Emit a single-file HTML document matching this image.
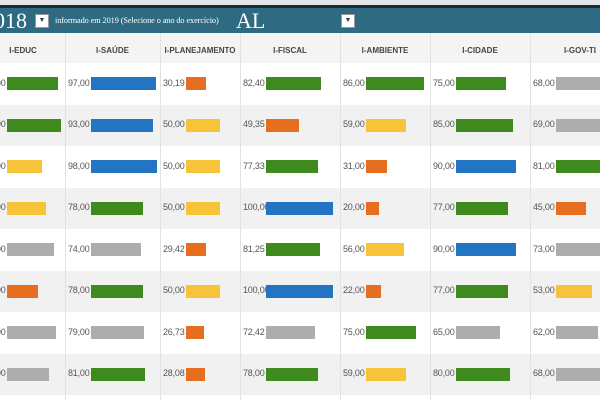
<!DOCTYPE html>
<html><head><meta charset="utf-8"><style>
body{margin:0;width:600px;height:400px;overflow:hidden;background:#fff;font-family:"Liberation Sans",sans-serif;position:relative}
.abs{position:absolute}
.hdr{font-size:8px;color:#444;font-weight:bold;text-align:center;top:46px}
.val{font-size:9px;color:#555;letter-spacing:-0.2px}
.bar{height:13px}
</style></head><body>
<div class="abs" style="left:0;top:0;width:600px;height:5px;background:#e4e6e8"></div>
<div class="abs" style="left:0;top:5px;width:600px;height:3px;background:#1b2a33"></div>
<div class="abs" style="left:0;top:8px;width:600px;height:25px;background:#2e6b82"></div>
<div class="abs" style="left:-6px;top:8px;font-family:'Liberation Serif',serif;font-size:22px;color:#fff">018</div>
<div class="abs" style="left:35px;top:14px;width:12px;height:12px;background:#fff;border:1px solid #999;font-size:7px;text-align:center;line-height:12px;color:#345">▼</div>
<div class="abs" style="left:55px;top:16px;font-family:'Liberation Serif',serif;font-size:8.3px;color:#fff;letter-spacing:-0.1px">informado em 2019 (Selecione o ano do exercício)</div>
<div class="abs" style="left:236px;top:8px;font-family:'Liberation Serif',serif;font-size:22px;color:#fff">AL</div>
<div class="abs" style="left:341px;top:14px;width:12px;height:12px;background:#fff;border:1px solid #999;font-size:7px;text-align:center;line-height:12px;color:#345">▼</div>
<div class="abs" style="left:0;top:33px;width:600px;height:30px;background:#f4f4f4;border-bottom:1px solid #ddd"></div>
<div id="t"></div>
<script>
const columns=["I-EDUC","I-SAÚDE","I-PLANEJAMENTO","I-FISCAL","I-AMBIENTE","I-CIDADE","I-GOV-TI"];
const educ=[76,80,52,58,70,47,73,63];
const saude=[97,93,98,78,74,78,79,81];
const planej=[30.19,50,50,50,29.42,50,26.73,28.08];
const fiscal=[82.40,49.35,77.33,100,81.25,100,72.42,78];
const ambiente=[86,59,31,20,56,22,75,59];
const cidade=[75,85,90,77,90,77,65,80];
const govti=[68,69,81,45,73,53,62,68];
const cls=[
["g","g","y","y","s","o","s","s"],
["b","b","b","g","s","g","s","g"],
["o","y","y","y","o","y","o","o"],
["g","o","g","b","g","b","s","g"],
["g","y","o","o","y","o","g","y"],
["g","g","b","g","b","g","s","g"],
["s","s","g","o","s","y","s","s"]];
const series=[educ,saude,planej,fiscal,ambiente,cidade,govti];
const colLeft=[-19,65,160,240,340,430,530];
const colRight=[65,160,240,340,430,530,630];
const colors={g:"#3f8a1c",b:"#2474c4",y:"#f7c338",o:"#e56e1f",s:"#adadad"};
const rowTop=63,rowH=41.5,scale=0.67;
const t=document.getElementById('t');
function mk(cls,style){const d=document.createElement('div');d.className='abs '+cls;Object.assign(d.style,style);t.appendChild(d);return d;}
for(let r=0;r<8;r++){
  const bg=mk('',{left:'0px',top:(rowTop+r*rowH)+'px',width:'600px',height:rowH+'px',background:r%2?'#f1f1f1':'#fff'});
  
  
}
for(let c=0;c<columns.length;c++){
  const h=mk('hdr',{left:colLeft[c]+'px',width:(colRight[c]-colLeft[c])+'px'});
  h.textContent=columns[c];
  
  
  if(c>0){const s=mk('',{left:colLeft[c]+'px',top:'33px',width:'1px',height:'367px',background:'#e2e2e2'});
  
  }
  for(let r=0;r<8;r++){
    const v=series[c][r];const cy=rowTop+r*rowH+rowH/2;
    const lab=mk('val',{left:(colLeft[c]+3)+'px',top:(cy-6)+'px'});
    lab.textContent=v.toFixed(2).replace('.',',');
    
    
    const b=mk('bar',{left:(colLeft[c]+26)+'px',top:(cy-6.5)+'px',width:(v*scale)+'px',background:colors[cls[c][r]]});
    
    
  }
}
</script>
</body></html>
